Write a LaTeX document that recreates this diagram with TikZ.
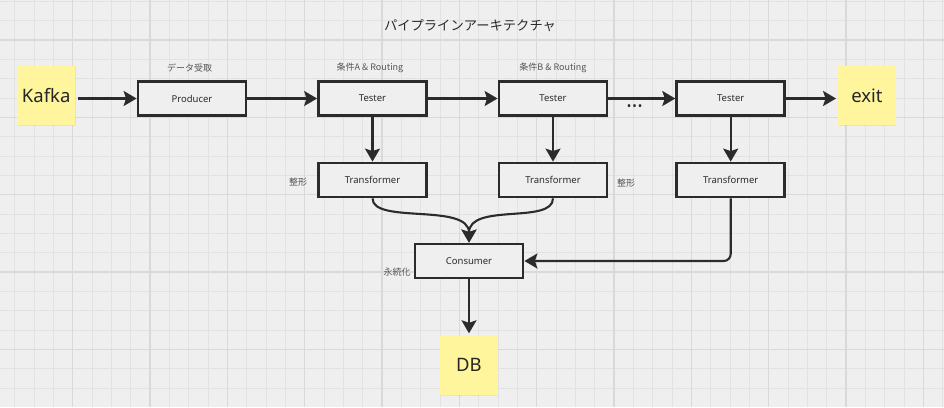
\documentclass[tikz,border=0pt]{standalone}
\usepackage{fontspec}
\setmainfont{Noto Sans}
\newfontfamily\jp{Noto Sans CJK JP}
\usetikzlibrary{arrows.meta,shadows}

\definecolor{bgc}{HTML}{EFEFEF}
\definecolor{minorc}{HTML}{E2E2E2}
\definecolor{majorc}{HTML}{D9D9D9}
\definecolor{inkc}{HTML}{2B2B2B}
\definecolor{notec}{HTML}{555555}
\definecolor{stickyc}{HTML}{FEF59C}

\tikzset{
	box/.style={draw=inkc,line width=2.8pt,fill=bgc,minimum width=108pt,minimum height=34pt,
		inner sep=0pt,text=inkc,font=\fontsize{9.5}{11}\selectfont},
	sticky/.style={fill=stickyc,minimum width=57.5pt,minimum height=59pt,inner sep=0pt,text=black!85,
		font=\fontsize{18.5}{20}\selectfont,drop shadow={shadow xshift=0.6pt,shadow yshift=-1.2pt,opacity=0.12}},
	note/.style={text=notec,font=\jp\fontsize{9}{10}\selectfont,inner sep=0pt},
	arr/.style={draw=inkc,line width=2.1pt,-{Stealth[length=13pt,width=15pt,inset=2.5pt]}}
}

\begin{document}
\begin{tikzpicture}[x=1pt,y=-1pt]
			\useasboundingbox (0,0) rectangle (944,407);
			\fill[bgc] (0,0) rectangle (944,407);
			\begin{scope}
				\clip (0,0) rectangle (944,407);
				\foreach \i in {0,...,48}
					\draw[minorc,line width=0.9pt] ({14.7+19.333*\i},0) -- ({14.7+19.333*\i},407);
				\foreach \i in {0,...,20}
					\draw[minorc,line width=0.9pt] (0,{1.45+19.333*\i}) -- (944,{1.45+19.333*\i});
				\foreach \i in {0,...,11}
					\draw[majorc,line width=1.4pt] ({72.7+77.33*\i},0) -- ({72.7+77.33*\i},407);
				\foreach \i in {0,...,4}
					\draw[majorc,line width=1.4pt] (0,{40.1+77.33*\i}) -- (944,{40.1+77.33*\i});
			\end{scope}

			\node[note,font=\jp\fontsize{13.3}{15}\selectfont,text=inkc] (title) at (470,26) {パイプラインアーキテクチャ};

			\node[sticky] (kafka) at (46.2,95.5) {Kafka};
			\node[sticky] (exit) at (867,95.5) {exit};
			\node[sticky] (db) at (469,365) {DB};

			\node[box] (producer) at (192,98.5) {Producer};
			\node[box] (testerA) at (372.5,98.5) {Tester};
			\node[box] (testerB) at (553,98.5) {Tester};
			\node[box] (testerC) at (730.7,98.5) {Tester};
			\node[box] (transA) at (372.5,180) {Transformer};
			\node[box] (transB) at (553,180) {Transformer};
			\node[box] (transC) at (730.7,180) {Transformer};
			\node[box] (consumer) at (469,261) {Consumer};

			\node[note] (recv) at (189.5,68) {データ受取};
			\node[note] (condA) at (370,68) {条件A \& Routing};
			\node[note] (condB) at (553,68) {条件B \& Routing};
			\node[note] (fmtA) at (298,182.5) {整形};
			\node[note] (fmtB) at (626,183) {整形};
			\node[note] (persist) at (397,272.5) {永続化};
			\node[text=inkc,font=\bfseries\fontsize{12}{12}\selectfont,inner sep=0pt] (dots) at (634.7,108) {\textbullet\kern1pt\textbullet\kern1pt\textbullet};

			\draw[arr,shorten <=2.5pt] (kafka.east |- producer.west) -- (producer.west);
			\draw[arr] (producer) -- (testerA);
			\draw[arr] (testerA) -- (testerB);
			\draw[arr] (testerB) -- (testerC);
			\draw[arr,shorten >=2pt] (testerC.east) -- (testerC.east -| exit.west);
			\draw[arr] (testerA) -- (transA);
			\draw[arr] (testerB) -- (transB);
			\draw[arr] (testerC) -- (transC);
			\draw[arr] (transA.south) .. controls +(0,26) and +(0,-40) .. (consumer.north);
			\draw[arr] (transB.south) .. controls +(0,26) and +(0,-40) .. (consumer.north);
			\draw[arr,rounded corners=7pt] (transC.south) |- (consumer.east);
			\draw[arr,shorten >=2pt] (consumer) -- (db);
		\end{tikzpicture}
\end{document}
